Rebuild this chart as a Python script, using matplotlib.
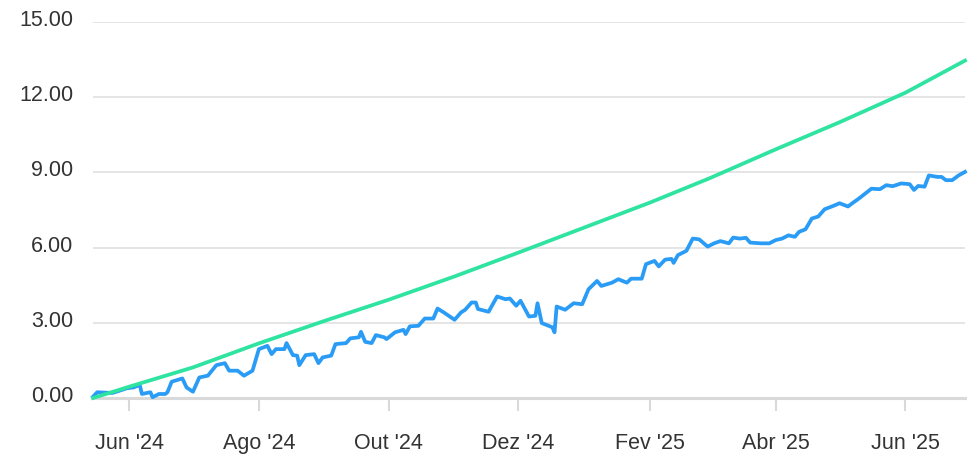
import matplotlib.pyplot as plt
import matplotlib.transforms as mtransforms
import pandas as pd

# serie azul (carteira)
blue_dates = [
    "2024-05-15", "2024-05-17", "2024-05-24", "2024-05-26", "2024-05-31",
    "2024-06-03", "2024-06-06", "2024-06-07", "2024-06-11", "2024-06-12", "2024-06-15",
    "2024-06-18", "2024-06-19", "2024-06-21", "2024-06-26", "2024-06-28",
    "2024-07-01", "2024-07-04", "2024-07-08", "2024-07-12", "2024-07-16", "2024-07-18",
    "2024-07-22", "2024-07-25", "2024-07-29",
    "2024-08-01", "2024-08-05", "2024-08-07", "2024-08-09", "2024-08-13", "2024-08-14",
    "2024-08-17", "2024-08-19", "2024-08-20", "2024-08-23", "2024-08-27", "2024-08-29",
    "2024-08-31",
    "2024-09-04", "2024-09-06", "2024-09-11", "2024-09-13", "2024-09-17", "2024-09-18",
    "2024-09-20", "2024-09-23", "2024-09-25", "2024-09-29", "2024-09-30",
    "2024-10-04", "2024-10-08", "2024-10-09", "2024-10-11", "2024-10-15", "2024-10-18",
    "2024-10-22", "2024-10-24", "2024-10-27",
    "2024-11-01", "2024-11-04", "2024-11-06", "2024-11-09", "2024-11-11", "2024-11-12",
    "2024-11-17", "2024-11-21", "2024-11-25", "2024-11-27", "2024-11-30",
    "2024-12-02", "2024-12-06", "2024-12-09", "2024-12-10", "2024-12-12", "2024-12-17",
    "2024-12-18", "2024-12-19", "2024-12-23", "2024-12-27", "2024-12-31",
    "2025-01-03", "2025-01-07", "2025-01-09", "2025-01-14", "2025-01-17", "2025-01-21",
    "2025-01-23", "2025-01-28", "2025-01-30",
    "2025-02-03", "2025-02-05", "2025-02-08", "2025-02-11", "2025-02-12", "2025-02-14",
    "2025-02-18", "2025-02-21", "2025-02-24", "2025-02-28",
    "2025-03-03", "2025-03-06", "2025-03-10", "2025-03-12", "2025-03-15", "2025-03-18",
    "2025-03-20", "2025-03-25", "2025-03-29",
    "2025-04-01", "2025-04-04", "2025-04-07", "2025-04-10", "2025-04-12", "2025-04-15",
    "2025-04-18", "2025-04-21", "2025-04-24", "2025-04-28",
    "2025-05-01", "2025-05-05", "2025-05-07", "2025-05-10", "2025-05-14", "2025-05-16",
    "2025-05-20", "2025-05-23", "2025-05-26", "2025-05-30",
    "2025-06-03", "2025-06-05", "2025-06-07", "2025-06-10", "2025-06-12", "2025-06-16",
    "2025-06-18", "2025-06-20", "2025-06-23", "2025-06-26", "2025-06-29",
]
blue_values = [
    0.05, 0.23, 0.20, 0.25, 0.39,
    0.42, 0.52, 0.16, 0.23, 0.03, 0.16,
    0.16, 0.23, 0.65, 0.78, 0.42,
    0.25, 0.82, 0.89, 1.31, 1.39, 1.09,
    1.09, 0.89, 1.09,
    1.95, 2.08, 1.75, 1.95, 1.95, 2.19,
    1.71, 1.69, 1.31, 1.71, 1.75, 1.39,
    1.62,
    1.69, 2.15, 2.19, 2.38, 2.42, 2.64,
    2.24, 2.19, 2.51, 2.42, 2.35,
    2.62, 2.72, 2.55, 2.86, 2.88, 3.17,
    3.17, 3.57, 3.41,
    3.12, 3.41, 3.52, 3.81, 3.81, 3.55,
    3.44, 4.05, 3.94, 3.97, 3.68,
    3.88, 3.25, 3.28, 3.78, 2.99, 2.82,
    2.62, 3.65, 3.52, 3.78, 3.74,
    4.34, 4.67, 4.47, 4.60, 4.74, 4.60,
    4.76, 4.76, 5.34,
    5.47, 5.25, 5.52, 5.55, 5.39, 5.70,
    5.87, 6.36, 6.33, 6.04,
    6.17, 6.26, 6.17, 6.40, 6.36, 6.39,
    6.20, 6.17, 6.17,
    6.30, 6.36, 6.49, 6.43, 6.63, 6.73,
    7.16, 7.24, 7.53, 7.66,
    7.77, 7.64, 7.77, 7.95, 8.22, 8.35,
    8.33, 8.49, 8.45, 8.56,
    8.53, 8.30, 8.46, 8.43, 8.88, 8.82,
    8.82, 8.69, 8.69, 8.88, 9.02,
]

# serie verde (referencia)
green_dates = [
    "2024-05-15", "2024-06-01", "2024-07-01", "2024-08-01", "2024-09-01",
    "2024-10-01", "2024-11-01", "2024-12-01", "2025-01-01", "2025-02-01",
    "2025-03-01", "2025-04-01", "2025-05-01", "2025-06-01", "2025-06-29",
]
green_values = [
    0.0, 0.45, 1.22, 2.18, 3.08,
    3.92, 4.85, 5.80, 6.80, 7.80,
    8.77, 9.92, 11.00, 12.18, 13.46,
]

tick_dates = ["2024-06-01", "2024-08-01", "2024-10-01", "2024-12-01",
              "2025-02-01", "2025-04-01", "2025-06-01"]
tick_labels = ["Jun '24", "Ago '24", "Out '24", "Dez '24", "Fev '25", "Abr '25", "Jun '25"]
y_ticks = [0, 3, 6, 9, 12, 15]

plt.rcParams['font.family'] = ['Liberation Sans', 'DejaVu Sans']

fig = plt.figure(figsize=(9.68, 4.61), dpi=100)
ax = fig.add_axes([93/968, 63/461, 872/968, 376/461])

ax.plot(pd.to_datetime(blue_dates), blue_values, color='#2a9cf5', lw=2.7,
        solid_joinstyle='round', clip_on=False, zorder=3)
ax.plot(pd.to_datetime(green_dates), green_values, color='#2fe3a0', lw=2.7,
        solid_joinstyle='round', clip_on=False, zorder=4)

ax.set_xlim(pd.Timestamp("2024-05-15"), pd.Timestamp("2025-06-29"))
ax.set_ylim(0, 15)
ax.set_yticks(y_ticks)
ax.set_yticklabels(['%.2f' % v for v in y_ticks])
ax.set_xticks(pd.to_datetime(tick_dates))
ax.set_xticklabels(tick_labels)

ax.grid(axis='y', color='#e3e3e3', lw=1.3)
ax.set_axisbelow(True)
for s in ['top', 'right', 'left']:
    ax.spines[s].set_visible(False)
ax.spines['bottom'].set_color('#d9d9d9')
ax.spines['bottom'].set_linewidth(2.2)

ax.tick_params(axis='x', length=9, width=1.5, color='#d9d9d9', pad=16,
               labelsize=15.5, labelcolor='#333333')
ax.tick_params(axis='y', length=0, pad=14, labelsize=15.5, labelcolor='#333333')

# rotulos do eixo y um pouco acima da linha de grade
off = mtransforms.ScaledTranslation(0, 4/100, fig.dpi_scale_trans)
for lab in ax.get_yticklabels():
    lab.set_transform(lab.get_transform() + off)

fig.savefig('out.png', dpi=100)
